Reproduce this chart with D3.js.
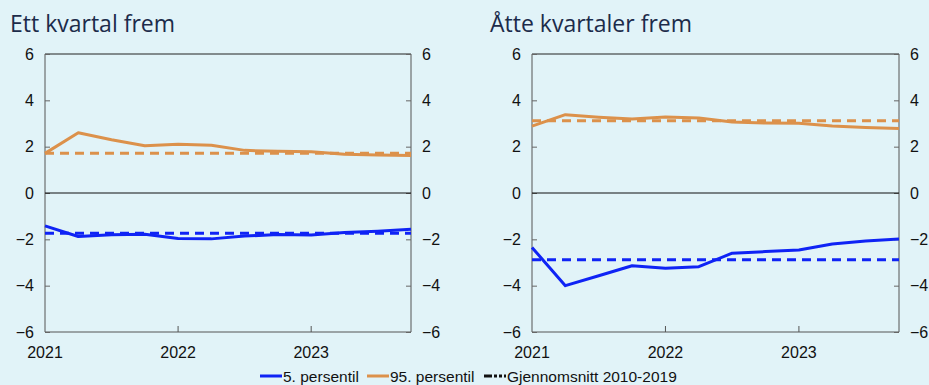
<!DOCTYPE html>
<html>
<head>
<meta charset="utf-8">
<script src="https://cdn.jsdelivr.net/npm/d3@7"></script>
<style>
  html, body { margin: 0; padding: 0; background: #e1f3f8; }
  svg { display: block; }
</style>
</head>
<body>
<svg id="chart" width="929" height="385"></svg>
<script>
// Quarters 2021Q1 – 2023Q4
const quarters = ["2021Q1","2021Q2","2021Q3","2021Q4","2022Q1","2022Q2","2022Q3","2022Q4","2023Q1","2023Q2","2023Q3","2023Q4"];
const yearTicks = [2021, 2022, 2023];
const yTicks = [-6, -4, -2, 0, 2, 4, 6];

// One quarter ahead
const oneQ_p5  = [-1.42, -1.88, -1.80, -1.78, -1.96, -1.98, -1.86, -1.79, -1.81, -1.70, -1.65, -1.57];
const oneQ_p95 = [1.71, 2.60, 2.30, 2.04, 2.10, 2.06, 1.84, 1.80, 1.78, 1.67, 1.64, 1.62];
const oneQ_avg5 = -1.74;
const oneQ_avg95 = 1.72;

// Eight quarters ahead
const eightQ_p5  = [-2.35, -4.00, -3.57, -3.14, -3.25, -3.18, -2.60, -2.53, -2.46, -2.20, -2.07, -1.99];
const eightQ_p95 = [2.89, 3.38, 3.27, 3.19, 3.28, 3.24, 3.06, 3.02, 3.01, 2.89, 2.83, 2.78];
const eightQ_avg5 = -2.88;
const eightQ_avg95 = 3.12;

const titles = ["Ett kvartal frem", "Åtte kvartaler frem"];
const legendLabels = ["5. persentil", "95. persentil", "Gjennomsnitt 2010-2019"];

const BLUE = "#0f23f5";
const ORANGE = "#dc914b";
const FONT = "Liberation Sans, Arial, Helvetica, sans-serif";

const svg = d3.select("#chart");

const panels = [
  { title: titles[0], left: 45, right: 411, p5: oneQ_p5, p95: oneQ_p95, a5: oneQ_avg5, a95: oneQ_avg95, titleX: 10 },
  { title: titles[1], left: 532, right: 899, p5: eightQ_p5, p95: eightQ_p95, a5: eightQ_avg5, a95: eightQ_avg95, titleX: 490 }
];

const plotTop = 54, plotBottom = 332;

panels.forEach(p => {
  const g = svg.append("g");
  const x = d3.scaleLinear().domain([0, quarters.length - 1]).range([p.left, p.right]);
  const y = d3.scaleLinear().domain([-6, 6]).range([plotBottom, plotTop]);
  const xYear = yr => x((yr - 2021) * 4);

  // title
  g.append("text")
    .attr("x", p.titleX).attr("y", 32)
    .attr("font-family", "Open Sans, sans-serif")
    .attr("font-size", 23)
    .attr("fill", "#1c2b4a")
    .text(p.title);

  // frame: top black, others grey
  g.append("line").attr("x1", p.left).attr("x2", p.right).attr("y1", plotTop).attr("y2", plotTop)
    .attr("stroke", "#222").attr("stroke-width", 1);
  g.append("line").attr("x1", p.left).attr("x2", p.right).attr("y1", plotBottom).attr("y2", plotBottom)
    .attr("stroke", "#555").attr("stroke-width", 1);
  g.append("line").attr("x1", p.left).attr("x2", p.left).attr("y1", plotTop).attr("y2", plotBottom)
    .attr("stroke", "#555").attr("stroke-width", 1);
  g.append("line").attr("x1", p.right).attr("x2", p.right).attr("y1", plotTop).attr("y2", plotBottom)
    .attr("stroke", "#555").attr("stroke-width", 1);

  // y axes (ticks inward)
  const fmt = d => d < 0 ? "\u2212" + Math.abs(d) : String(d);
  const yl = g.append("g").attr("transform", `translate(${p.left},0)`)
    .call(d3.axisRight(y).tickValues(yTicks).tickSize(5).tickFormat(""));
  yl.select(".domain").remove();
  yl.selectAll("line").attr("stroke", "#666");
  const yr = g.append("g").attr("transform", `translate(${p.right},0)`)
    .call(d3.axisLeft(y).tickValues(yTicks).tickSize(5).tickFormat(""));
  yr.select(".domain").remove();
  yr.selectAll("line").attr("stroke", "#666");

  // tick labels
  g.selectAll(".yl").data(yTicks).join("text")
    .attr("x", p.left - 11).attr("y", d => y(d)).attr("dy", "0.36em")
    .attr("text-anchor", "end")
    .attr("font-family", FONT).attr("font-size", 16).attr("fill", "#111")
    .text(fmt);
  g.selectAll(".yr").data(yTicks).join("text")
    .attr("x", p.right + 11).attr("y", d => y(d)).attr("dy", "0.36em")
    .attr("text-anchor", "start")
    .attr("font-family", FONT).attr("font-size", 16).attr("fill", "#111")
    .text(fmt);

  // x ticks (inward, upward from bottom)
  g.selectAll(".xt").data(yearTicks.slice(1)).join("line")
    .attr("x1", xYear).attr("x2", xYear)
    .attr("y1", plotBottom).attr("y2", plotBottom - 6)
    .attr("stroke", "#555");
  g.selectAll(".xl").data(yearTicks).join("text")
    .attr("x", xYear).attr("y", 358)
    .attr("text-anchor", "middle")
    .attr("font-family", FONT).attr("font-size", 16).attr("fill", "#111")
    .text(d => d);

  // zero line
  g.append("line").attr("x1", p.left).attr("x2", p.right).attr("y1", y(0)).attr("y2", y(0))
    .attr("stroke", "#111").attr("stroke-width", 1.2);

  // average lines (dashed)
  [[p.a95, ORANGE], [p.a5, BLUE]].forEach(([v, c]) => {
    g.append("line")
      .attr("x1", p.left).attr("x2", p.right)
      .attr("y1", y(v)).attr("y2", y(v))
      .attr("stroke", c).attr("stroke-width", 3)
      .attr("stroke-dasharray", "9,6");
  });

  // percentile lines
  const line = d3.line().x((d, i) => x(i)).y(d => y(d));
  [[p.p95, ORANGE], [p.p5, BLUE]].forEach(([vals, c]) => {
    g.append("path").datum(vals)
      .attr("d", line)
      .attr("fill", "none")
      .attr("stroke", c).attr("stroke-width", 3)
      .attr("stroke-linejoin", "round");
  });
});

// legend
const leg = svg.append("g").attr("font-family", FONT).attr("font-size", 15.5).attr("fill", "#111");
const legY = 376;
const items = [
  { x: 260, color: BLUE, dash: null, label: legendLabels[0] },
  { x: 367, color: ORANGE, dash: null, label: legendLabels[1] },
  { x: 484, color: "#111", dash: "8,2,3,2,3,2", label: legendLabels[2] }
];
items.forEach(it => {
  leg.append("line")
    .attr("x1", it.x).attr("x2", it.x + 22)
    .attr("y1", legY).attr("y2", legY)
    .attr("stroke", it.color).attr("stroke-width", 3)
    .attr("stroke-dasharray", it.dash);
  leg.append("text")
    .attr("x", it.x + 23).attr("y", legY).attr("dy", "0.36em")
    .text(it.label);
});
</script>
</body>
</html>
